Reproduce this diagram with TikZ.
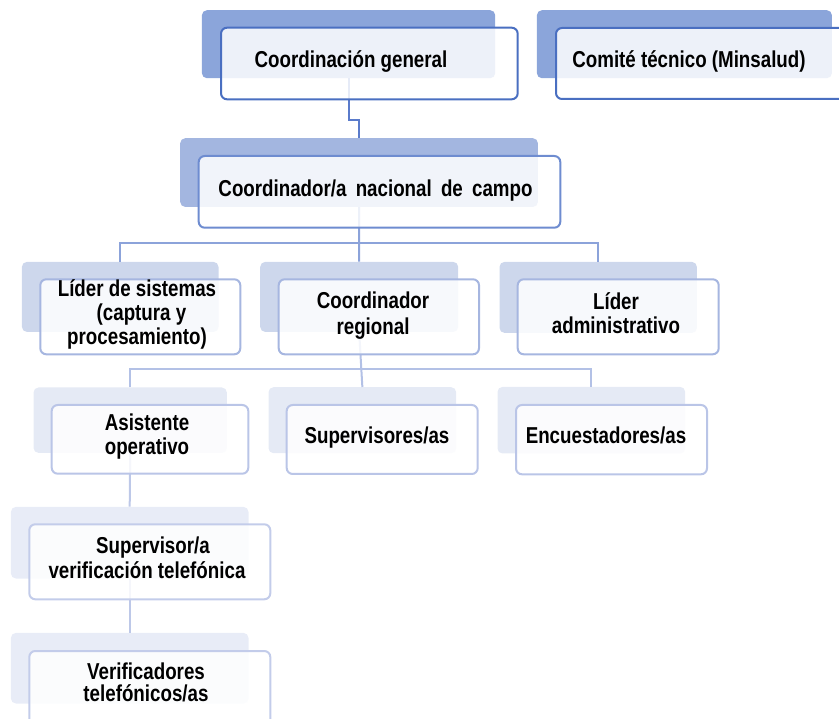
\documentclass[tikz,border=0pt]{standalone}
\usepackage{fontspec}
\newfontfamily\nf{Liberation Sans}[FakeStretch=0.815]
\definecolor{czs}{HTML}{8BA5DA}
\definecolor{czb}{HTML}{4A6FC1}
\definecolor{czl}{HTML}{5A7BCB}
\definecolor{cas}{HTML}{A3B6E0}
\definecolor{cab}{HTML}{6E8CD0}
\definecolor{cal}{HTML}{8CA3DA}
\definecolor{cbs}{HTML}{CDD7EC}
\definecolor{cbb}{HTML}{A6B6E0}
\definecolor{cbl}{HTML}{B3C1E6}
\definecolor{ccs}{HTML}{E5EAF5}
\definecolor{ccb}{HTML}{BAC5E7}
\definecolor{ccl}{HTML}{BDC8E8}
\definecolor{cds}{HTML}{E8ECF7}
\definecolor{cdb}{HTML}{C3CCEA}
\begin{document}
\begin{tikzpicture}[x=1pt,y=-1pt,
  shadowbox/.style={rectangle, rounded corners=5pt, inner sep=0pt, anchor=north west, draw=none},
  frontbox/.style={rectangle, rounded corners=6pt, inner sep=0pt, anchor=north west, fill=white, fill opacity=0.85, line width=2pt},
  lbl/.style={font=\nf\bfseries\fontsize{23}{24}\selectfont, align=center, inner sep=0pt, text=black, anchor=base},
  conn/.style={line width=2pt}]
\useasboundingbox (0,0) rectangle (839,719);
\clip (0,0) rectangle (839,719);
% shadows
\node[shadowbox, fill=czs, minimum width=293.3pt, minimum height=68pt] (s-cg) at (201.7,10) {};
\node[shadowbox, fill=czs, minimum width=295pt, minimum height=68pt] (s-com) at (536.7,10) {};
\node[shadowbox, fill=cas, minimum width=357.7pt, minimum height=68.7pt] (s-nac) at (180,138) {};
\node[shadowbox, fill=cbs, minimum width=196.6pt, minimum height=70pt] (s-sys) at (21.7,261.7) {};
\node[shadowbox, fill=cbs, minimum width=198pt, minimum height=70pt] (s-reg) at (260,261.7) {};
\node[shadowbox, fill=cbs, minimum width=197.4pt, minimum height=71pt] (s-adm) at (499.3,261.7) {};
\node[shadowbox, fill=ccs, minimum width=193.4pt, minimum height=65.4pt] (s-asis) at (33.3,387.3) {};
\node[shadowbox, fill=ccs, minimum width=187.7pt, minimum height=66pt] (s-sup) at (268.3,387) {};
\node[shadowbox, fill=ccs, minimum width=187.7pt, minimum height=66.6pt] (s-enc) at (497.3,386.7) {};
\node[shadowbox, fill=cds, minimum width=237.6pt, minimum height=71.6pt] (s-svt) at (10.7,506.7) {};
\node[shadowbox, fill=cds, minimum width=237.6pt, minimum height=70.6pt] (s-ver) at (10.7,632.7) {};
% connectors
\draw[conn, czl] (s-cg.south) -- ++(0,42) -| (s-nac.north);
\draw[conn, cal] (s-nac.south) -- (s-reg.north);
\draw[conn, cal] (s-sys.north) -- ++(0,-18.5) -| (s-adm.north);
\draw[conn, cbl] (s-reg.south) -- (s-sup.north);
\draw[conn, cbl] (s-asis.north) -- ++(0,-18) -| (s-enc.north);
\draw[conn, ccl] (s-asis.south) -- (s-svt.north);
\draw[conn, ccl] (s-svt.south) -- (s-ver.north);
% front boxes
\node[frontbox, draw=czb, minimum width=296.7pt, minimum height=71.6pt] (f-cg) at (220,26.7) {};
\node[frontbox, draw=czb, minimum width=300pt, minimum height=71pt] (f-com) at (555,27) {};
\node[frontbox, draw=cab, minimum width=361.6pt, minimum height=71.7pt] (f-nac) at (197.7,155) {};
\node[frontbox, draw=cbb, minimum width=200pt, minimum height=75pt] (f-sys) at (39.3,278.3) {};
\node[frontbox, draw=cbb, minimum width=200.3pt, minimum height=75pt] (f-reg) at (277.7,278.3) {};
\node[frontbox, draw=cbb, minimum width=201pt, minimum height=75pt] (f-adm) at (516.7,278.3) {};
\node[frontbox, draw=ccb, minimum width=196.6pt, minimum height=68.7pt] (f-asis) at (50.7,404) {};
\node[frontbox, draw=ccb, minimum width=191pt, minimum height=69pt] (f-sup) at (285.7,404) {};
\node[frontbox, draw=ccb, minimum width=191pt, minimum height=69.3pt] (f-enc) at (515,404) {};
\node[frontbox, draw=cdb, minimum width=241pt, minimum height=75pt] (f-svt) at (28.3,523.3) {};
\node[frontbox, draw=cdb, minimum width=241pt, minimum height=75pt] (f-ver) at (28.3,650) {};
% labels (base anchor = baseline of last line)
\node[lbl] (t-cg) at (351,68) {Coordinación general};
\node[lbl] (t-com) at (689,68) {Comité técnico (Minsalud)};
\node[lbl] (t-nac) at (375.5,196.7) {Coordinador/a\hspace{4pt} nacional\hspace{4pt} de\hspace{4pt} campo};
\node[lbl] (t-sys) at (137,345) {Líder de sistemas\\\hspace*{9pt}(captura y\\procesamiento)};
\node[lbl] (t-reg) at (373,335) {Coordinador\\[2pt]regional};
\node[lbl] (t-adm) at (616,333.3) {Líder\\administrativo};
\node[lbl] (t-asis) at (147,455) {Asistente\\operativo};
\node[lbl] (t-sup) at (377,443.3) {Supervisores/as};
\node[lbl] (t-enc) at (606,443.3) {Encuestadores/as};
\node[lbl] (t-svt) at (147,578.3) {\hspace*{12pt}Supervisor/a\\[1pt]verificación telefónica};
\node[lbl] (t-ver) at (146,701.7) {Verificadores\\[-1.5pt]telefónicos/as};
\end{tikzpicture}
\end{document}
